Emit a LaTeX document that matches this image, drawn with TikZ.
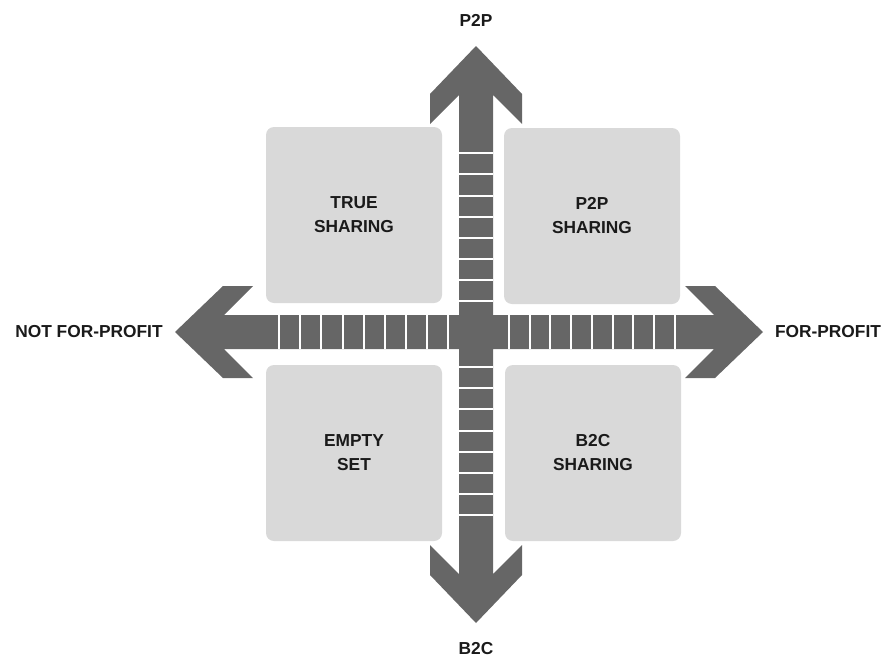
\documentclass[tikz,border=0pt]{standalone}
\usepackage{fontspec}
\setmainfont{Liberation Sans}
\definecolor{arrowgray}{HTML}{666666}
\definecolor{boxgray}{HTML}{D9D9D9}
\definecolor{labelblack}{HTML}{1A1A1A}
\tikzset{
    quadrant/.style={fill=boxgray, rounded corners=6pt, minimum width=132pt, minimum height=132pt,
        align=center, text=labelblack, font=\fontsize{13}{18}\selectfont\bfseries},
    axislabel/.style={text=labelblack, font=\fontsize{13}{16}\selectfont\bfseries},
    cut/.style={white, line width=1.5pt}
}
\begin{document}
\begin{tikzpicture}[x=0.75pt, y=-0.75pt] %1 unit = 1 px, y down
    \useasboundingbox (0,0) rectangle (882,657);

    \coordinate (C) at (476,332);

    % cuadrantes
    \node[quadrant] (truesharing) at (354,215) {TRUE\\SHARING};
    \node[quadrant] (ptopsharing) at (592,216) {P2P\\SHARING};
    \node[quadrant] (emptyset) at (354,453) {EMPTY\\SET};
    \node[quadrant] (btocsharing) at (593,453) {B2C\\SHARING};

    % cruz de flechas
    \fill[arrowgray] (476,46) -- (522,94) -- (522,124) -- (493,95) -- (493,315)
        -- (714,315) -- (685,286) -- (715,286) -- (763,332) -- (715,378) -- (685,378) -- (714,349)
        -- (493,349) -- (493,574) -- (522,545) -- (522,575) -- (476,623) -- (430,575) -- (430,545) -- (459,574)
        -- (459,349) -- (224,349) -- (253,378) -- (223,378) -- (175,332) -- (223,286) -- (253,286) -- (224,315)
        -- (459,315) -- (459,95) -- (430,124) -- (430,94) -- cycle;

    % divisiones
    \foreach \k in {0,...,8} {
        \draw[cut] ({448-21.1*\k},315) -- ({448-21.1*\k},349);
        \draw[cut] ({509+20.7*\k},315) -- ({509+20.7*\k},349);
    }
    \foreach \k in {0,...,7} {
        \draw[cut] (459,{301-21.1*\k}) -- (493,{301-21.1*\k});
        \draw[cut] (459,{367+21.2*\k}) -- (493,{367+21.2*\k});
    }

    \node[axislabel] (ptop) at (476,20) {P2P};
    \node[axislabel] (btoc) at (476,649) {B2C};
    \node[axislabel] (notprofit) at (89,332) {NOT FOR-PROFIT};
    \node[axislabel] (profit) at (828,332) {FOR-PROFIT};
\end{tikzpicture}
\end{document}
